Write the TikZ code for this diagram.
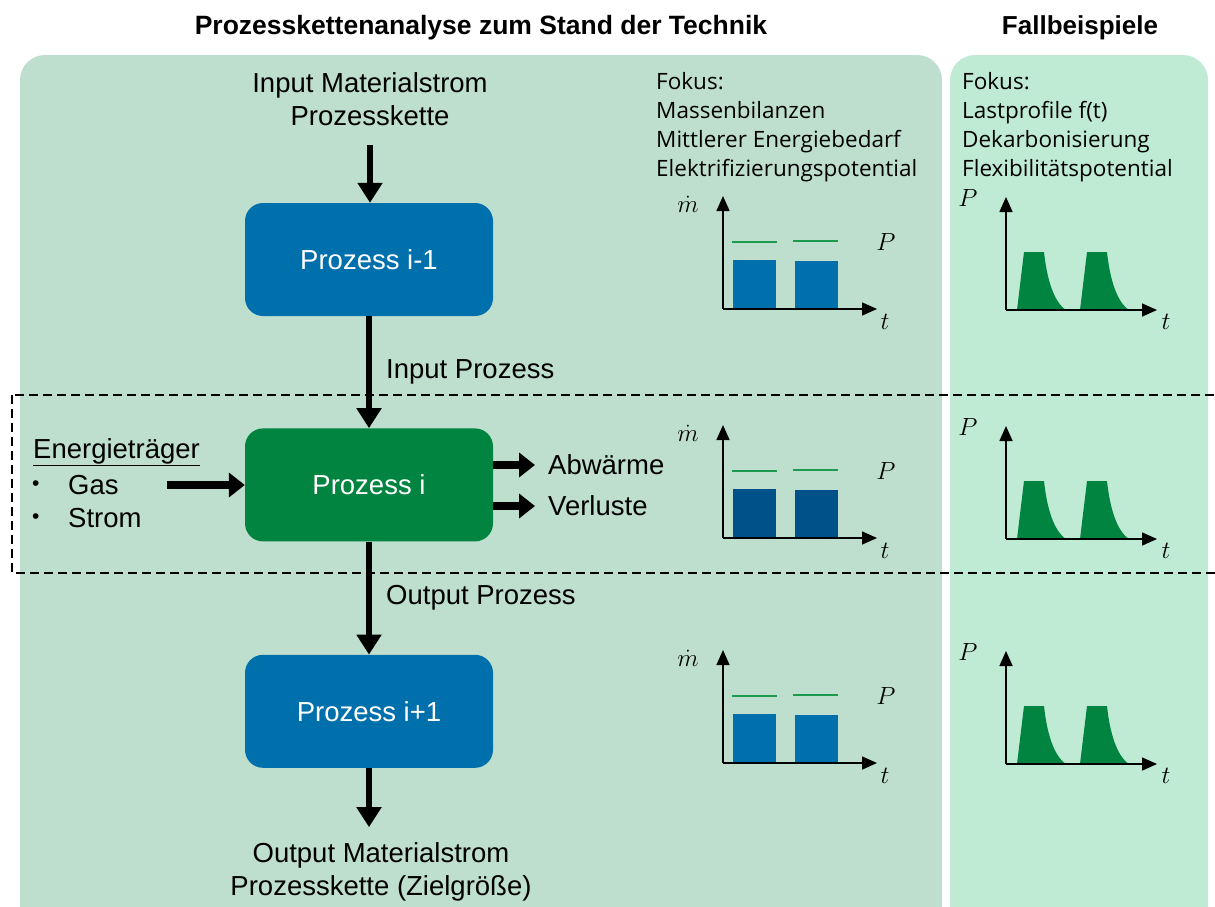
\documentclass[tikz,border=0pt]{standalone}
\usepackage{fontspec}
\setmainfont{Liberation Sans}
\newfontfamily\fokusfont{Open Sans}
\usetikzlibrary{arrows.meta,positioning}

\definecolor{panelA}{HTML}{BFDFCE}
\definecolor{panelB}{HTML}{BFEBD5}
\definecolor{procblue}{HTML}{0070AD}
\definecolor{procgreen}{HTML}{00843F}
\definecolor{bardark}{HTML}{00508A}
\definecolor{linegreen}{HTML}{1E9A50}

\tikzset{
  process/.style={fill=procblue, rounded corners=18pt, minimum width=248pt,
    minimum height=113pt, text=white, font=\fontsize{27.5}{30}\selectfont},
  flow/.style={line width=6pt, -{Triangle[width=24pt,length=20pt]}},
  side/.style={line width=8pt, -{Triangle[width=24pt,length=16pt]}},
  axis/.style={line width=1.6pt, -{Triangle[width=13pt,length=15pt]}},
  txt/.style={font=\fontsize{27.5}{33}\selectfont, align=center},
  fokus/.style={font=\fokusfont\fontsize{22.5}{29}\selectfont, align=left,
    anchor=north west, inner sep=0pt},
  mathlbl/.style={font=\fontsize{26}{26}\selectfont, inner sep=0pt},
}

\begin{document}
\begin{tikzpicture}[x=1pt, y=-1pt]

\useasboundingbox (0,0) rectangle (1215,906);
\clip (0,0) rectangle (1215,906);

% panels
\fill[panelA, rounded corners=25pt] (20,55) rectangle (942,940);
\fill[panelB, rounded corners=25pt] (950,55) rectangle (1208,940);

\node[font=\bfseries\fontsize{26.5}{26}\selectfont] (title) at (481,28)
  {Prozesskettenanalyse zum Stand der Technik};
\node[font=\bfseries\fontsize{26}{26}\selectfont] (titlecase) at (1080,28)
  {Fallbeispiele};

% system boundary
\draw[line width=1.6pt, dash pattern=on 9pt off 5pt] (12,395) rectangle (1240,573);

% process chain
\node[process] (pim1) at (369,259.5) {Prozess i-1};
\node[process, fill=procgreen, below=112pt of pim1] (pi) {Prozess i};
\node[process, below=113pt of pi] (pip1) {Prozess i+1};

\node[txt] (input) at (370,99) {Input Materialstrom\\Prozesskette};
\node[txt] (output) at (381,872) {Output Materialstrom\\Prozesskette (Zielgröße)};

\draw[flow, shorten <=16pt] (input.south) -- (input.south |- pim1.north);
\draw[flow] (pim1) -- (pi);
\draw[flow] (pi) -- (pip1);
\draw[flow, shorten >=12pt] (pip1.south) -- (pip1.south |- output.north);

\node[txt, anchor=west, inner sep=0pt] (inproc) at (386,372) {Input Prozess};
\node[txt, anchor=west, inner sep=0pt] (outproc) at (386,598) {Output Prozess};

% energy carriers
\node[txt, anchor=west, inner sep=0pt] (carrier) at (33,452) {\underline{Energieträger}};
\node[txt, anchor=west, inner sep=0pt, font=\fontsize{21}{21}\selectfont] (bgas) at (32,486) {\textbullet};
\node[txt, anchor=west, inner sep=0pt, font=\fontsize{21}{21}\selectfont] (bstrom) at (32,519) {\textbullet};
\node[txt, anchor=west, inner sep=0pt] (gas) at (68,485) {Gas};
\node[txt, anchor=west, inner sep=0pt] (strom) at (68,518) {Strom};
\draw[side] ([xshift=48pt]gas.east) -- (gas.east -| pi.west);

% outputs of process i
\node[txt, anchor=west, inner sep=0pt] (heat) at (548,465) {Abwärme};
\node[txt, anchor=west, inner sep=0pt] (loss) at (548,506) {Verluste};
\draw[side, shorten >=13pt] (heat.west -| pi.east) -- (heat.west);
\draw[side, shorten >=13pt] (loss.west -| pi.east) -- (loss.west);

% focus
\node[fokus] (fokusA) at (656,72) {Fokus:\\Massenbilanzen\\Mittlerer Energiebedarf\\Elektrifizierungspotential};
\node[fokus] (fokusB) at (962,72) {Fokus:\\Lastprofile f(t)\\Dekarbonisierung\\Flexibilitätspotential};

% charts
\foreach \dy/\barcol [count=\i] in {0/procblue, 229/bardark, 454/procblue}
{
  % mean demand
  \fill[\barcol] (733,260+\dy) rectangle (776,309+\dy);
  \fill[\barcol] (795,261+\dy) rectangle (838,309+\dy);
  \draw[linegreen, line width=2.6pt] (732,242+\dy) -- (777,242+\dy);
  \draw[linegreen, line width=2.6pt] (793,241+\dy) -- (838,241+\dy);
  \draw[axis] (723,309+\dy) -- (723,196+\dy);
  \draw[axis] (723,309+\dy) -- (877,309+\dy);
  \node[mathlbl] (mdot\i) at (688,204+\dy) {$\dot{m}$};
  \node[mathlbl] (pA\i) at (886,242+\dy) {$P$};
  \node[mathlbl] (tA\i) at (885,322+\dy) {$t$};
  % load profile
  \foreach \dx in {0,63}
    \fill[procgreen] (1017+\dx,310+\dy) -- (1024+\dx,252+\dy) -- (1044+\dx,252+\dy)
      .. controls (1047+\dx,280+\dy) and (1054+\dx,302+\dy) .. (1066+\dx,310+\dy) -- cycle;
  \draw[axis] (1006,310+\dy) -- (1006,197+\dy);
  \draw[axis] (1006,310+\dy) -- (1157,310+\dy);
  \node[mathlbl] (pB\i) at (968,198+\dy) {$P$};
  \node[mathlbl] (tB\i) at (1166,322+\dy) {$t$};
}

\end{tikzpicture}
\end{document}
